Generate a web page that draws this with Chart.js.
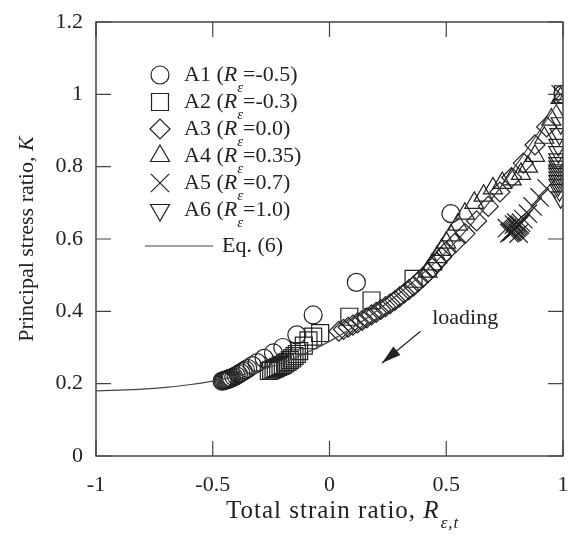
<!DOCTYPE html>
<html>
<head>
<meta charset="utf-8">
<script src="https://cdn.jsdelivr.net/npm/chart.js@4.4.1/dist/chart.umd.min.js"></script>
<style>
  html, body { margin: 0; padding: 0; background: #fff; }
  #wrap { width: 572px; height: 536px; }
</style>
</head>
<body>
<div id="wrap"><canvas id="chart" width="572" height="536"></canvas></div>
<script>
// values: total strain ratio R and principal stress ratio K
const a1R = [1.0, 0.52, 0.115, -0.07, -0.14, -0.2, -0.24, -0.28, -0.31, -0.33, -0.35, -0.36, -0.37, -0.38, -0.39, -0.40, -0.41, -0.42, -0.425, -0.43, -0.435, -0.44, -0.445, -0.45, -0.455, -0.46];
const a1K = [1.0, 0.67, 0.48, 0.39, 0.335, 0.3, 0.285, 0.27, 0.258, 0.25, 0.242, 0.238, 0.234, 0.23, 0.226, 0.222, 0.219, 0.216, 0.215, 0.213, 0.212, 0.211, 0.21, 0.209, 0.208, 0.207];

const a2R = [1.0, 0.36, 0.18, 0.085, -0.04, -0.07, -0.09, -0.11, -0.13, -0.14, -0.15, -0.16, -0.17, -0.18, -0.19, -0.20, -0.21, -0.22, -0.23, -0.24, -0.25, -0.26];
const a2K = [1.0, 0.49, 0.43, 0.385, 0.34, 0.33, 0.32, 0.305, 0.29, 0.282, 0.276, 0.27, 0.265, 0.26, 0.256, 0.252, 0.249, 0.246, 0.243, 0.24, 0.237, 0.235];

const a3R = [0.04, 0.06, 0.08, 0.10, 0.12, 0.14, 0.16, 0.18, 0.20, 0.22, 0.24, 0.26, 0.28, 0.30, 0.32, 0.34, 0.36, 0.38, 0.40, 0.42, 0.44, 0.46, 0.48, 0.50, 0.54, 0.58, 0.63, 0.68, 0.73, 0.78, 0.83, 0.88, 0.93];
const a3K = [0.345, 0.35, 0.356, 0.362, 0.368, 0.375, 0.382, 0.39, 0.397, 0.405, 0.413, 0.421, 0.43, 0.44, 0.45, 0.46, 0.47, 0.482, 0.494, 0.506, 0.52, 0.535, 0.55, 0.565, 0.59, 0.615, 0.65, 0.69, 0.73, 0.77, 0.81, 0.86, 0.91];

const a4R = [0.99, 0.95, 0.92, 0.88, 0.85, 0.82, 0.78, 0.74, 0.70, 0.66, 0.62, 0.58, 0.55, 0.52, 0.50, 0.48, 0.46, 0.44, 0.42];
const a4K = [0.99, 0.93, 0.88, 0.83, 0.80, 0.78, 0.765, 0.755, 0.74, 0.72, 0.70, 0.67, 0.64, 0.61, 0.59, 0.57, 0.55, 0.53, 0.51];

const a5R = [0.99, 0.93, 0.90, 0.87, 0.85, 0.83, 0.82, 0.815, 0.81, 0.805, 0.80, 0.795, 0.79, 0.785, 0.78, 0.775, 0.77, 0.80, 0.81, 0.79, 0.76];
const a5K = [1.0, 0.74, 0.715, 0.69, 0.67, 0.655, 0.645, 0.64, 0.637, 0.634, 0.631, 0.628, 0.625, 0.622, 0.62, 0.618, 0.616, 0.645, 0.615, 0.64, 0.63];

const a6R = [1.0, 0.99, 0.985, 0.98, 0.98, 0.98, 0.98, 0.98, 0.98, 0.98, 0.98, 0.98, 0.98, 0.985, 0.99];
const a6K = [0.97, 0.92, 0.89, 0.86, 0.84, 0.82, 0.81, 0.80, 0.79, 0.78, 0.77, 0.76, 0.75, 0.735, 0.715];

// Eq. (6) curve, read at a few points
const eqR = [-1, -0.9, -0.8, -0.7, -0.6, -0.5, -0.4, -0.3, -0.2, -0.1, 0, 0.1, 0.2, 0.3, 0.4, 0.5, 0.6, 0.7, 0.8, 0.9, 1.0];
const eqK = [0.18, 0.182, 0.185, 0.19, 0.197, 0.207, 0.22, 0.237, 0.258, 0.285, 0.317, 0.355, 0.40, 0.45, 0.505, 0.565, 0.635, 0.715, 0.805, 0.90, 1.0];

const xTicks = [-1, -0.5, 0, 0.5, 1];
const yTicks = [0, 0.2, 0.4, 0.6, 0.8, 1, 1.2];

const seriesNames = ['A1', 'A2', 'A3', 'A4', 'A5', 'A6'];
const seriesRe = ['-0.5', '-0.3', '0.0', '0.35', '0.7', '1.0'];

const INK = '#222';
const SERIF = '"Liberation Serif", "DejaVu Serif", serif';

const toPoints = (rs, ks) => rs.map((r, i) => ({ x: r, y: ks[i] }));

const markerStyles = [
  { pointStyle: 'circle', radius: 9, rotation: 0 },
  { pointStyle: 'rect', radius: 12, rotation: 0 },
  { pointStyle: 'rectRot', radius: 10, rotation: 0 },
  { pointStyle: 'triangle', radius: 11, rotation: 0 },
  { pointStyle: 'crossRot', radius: 13, rotation: 0 },
  { pointStyle: 'triangle', radius: 11, rotation: 180 },
];

const seriesData = [
  toPoints(a1R, a1K), toPoints(a2R, a2K), toPoints(a3R, a3K),
  toPoints(a4R, a4K), toPoints(a5R, a5K), toPoints(a6R, a6K),
];

const markerSets = seriesData.map((data, i) => ({
  label: seriesNames[i],
  data,
  showLine: false,
  pointStyle: markerStyles[i].pointStyle,
  pointRadius: markerStyles[i].radius,
  pointRotation: markerStyles[i].rotation,
  pointBorderWidth: 1.2,
  pointBorderColor: INK,
  pointBackgroundColor: 'rgba(0,0,0,0)',
}));

const eqSet = {
  label: 'Eq. (6)',
  data: toPoints(eqR, eqK),
  showLine: true,
  borderColor: '#444',
  borderWidth: 1.2,
  pointRadius: 0,
  cubicInterpolationMode: 'monotone',
};

const FS = 22;

// frame, inward ticks, tick labels, titles, legend and the "loading" note
const decorations = {
  id: 'decorations',
  afterDraw(chart) {
    const { ctx, chartArea: a, scales: { x, y } } = chart;
    ctx.save();
    ctx.strokeStyle = '#444';
    ctx.lineWidth = 1.5;
    ctx.strokeRect(a.left, a.top, a.right - a.left, a.bottom - a.top);

    const tl = 15;
    ctx.lineWidth = 1.2;
    ctx.beginPath();
    xTicks.forEach((v) => {
      const px = x.getPixelForValue(v);
      ctx.moveTo(px, a.bottom); ctx.lineTo(px, a.bottom - tl);
      ctx.moveTo(px, a.top); ctx.lineTo(px, a.top + tl);
    });
    yTicks.forEach((v) => {
      const py = y.getPixelForValue(v);
      ctx.moveTo(a.left, py); ctx.lineTo(a.left + tl, py);
      ctx.moveTo(a.right, py); ctx.lineTo(a.right - tl, py);
    });
    ctx.stroke();

    ctx.fillStyle = INK;
    ctx.textBaseline = 'middle';
    ctx.font = `${FS}px ${SERIF}`;
    ctx.textAlign = 'center';
    xTicks.forEach((v) => ctx.fillText(String(v), x.getPixelForValue(v), a.bottom + 29));
    ctx.textAlign = 'right';
    yTicks.forEach((v) => ctx.fillText(String(v), a.left - 13, y.getPixelForValue(v)));
    ctx.textAlign = 'left';

    // y title
    ctx.save();
    ctx.translate(27, (a.top + a.bottom) / 2);
    ctx.rotate(-Math.PI / 2);
    const yt = 'Principal stress ratio, ';
    ctx.font = `italic ${FS}px ${SERIF}`;
    const kw = ctx.measureText('K').width;
    ctx.font = `${FS}px ${SERIF}`;
    const ytw = ctx.measureText(yt).width;
    const sx = -(ytw + kw) / 2;
    ctx.fillText(yt, sx, 0);
    ctx.font = `italic ${FS}px ${SERIF}`;
    ctx.fillText('K', sx + ytw, 0);
    ctx.restore();

    // x title
    ctx.save();
    ctx.letterSpacing = '1px';
    const xt = 'Total strain ratio, ';
    ctx.font = `25px ${SERIF}`;
    const xtw = ctx.measureText(xt).width;
    ctx.font = `italic 25px ${SERIF}`;
    const rw = ctx.measureText('R').width;
    const tx = 226;
    const ty = 511;
    ctx.font = `25px ${SERIF}`;
    ctx.fillText(xt, tx, ty);
    ctx.font = `italic 25px ${SERIF}`;
    ctx.fillText('R', tx + xtw, ty);
    ctx.font = `italic 17px ${SERIF}`;
    ctx.fillText('\u03b5,t', tx + xtw + rw + 1, ty + 13);
    ctx.restore();

    // legend
    const lx = 160, tx0 = 184, row0 = 75, step = 27;
    markerStyles.forEach((m, i) => {
      const ry = row0 + i * step;
      ctx.strokeStyle = INK;
      ctx.fillStyle = 'rgba(0,0,0,0)';
      ctx.lineWidth = 1.2;
      Chart.helpers.drawPoint(ctx, { pointStyle: m.pointStyle, radius: m.radius, rotation: m.rotation, borderWidth: 1.2 }, lx, ry);
      ctx.fillStyle = INK;
      ctx.font = `${FS}px ${SERIF}`;
      const head = seriesNames[i] + ' (';
      ctx.fillText(head, tx0, ry);
      let px = tx0 + ctx.measureText(head).width;
      ctx.font = `italic ${FS}px ${SERIF}`;
      ctx.fillText('R', px, ry);
      px += ctx.measureText('R').width;
      ctx.font = `italic 15px ${SERIF}`;
      ctx.fillText('\u03b5', px, ry + 13);
      px += ctx.measureText('\u03b5').width;
      ctx.font = `${FS}px ${SERIF}`;
      ctx.fillText('=' + seriesRe[i] + ')', px, ry);
    });
    const ey = row0 + 6 * step + 9;
    ctx.strokeStyle = '#444';
    ctx.lineWidth = 1.2;
    ctx.beginPath();
    ctx.moveTo(145, ey); ctx.lineTo(213, ey);
    ctx.stroke();
    ctx.font = `${FS}px ${SERIF}`;
    ctx.fillText('Eq. (6)', 222, ey);

    // loading note with arrow
    ctx.fillText('loading', x.getPixelForValue(0.44), y.getPixelForValue(0.38));
    const x0 = x.getPixelForValue(0.39), y0 = y.getPixelForValue(0.345);
    const x1 = x.getPixelForValue(0.225), y1 = y.getPixelForValue(0.257);
    const ang = Math.atan2(y1 - y0, x1 - x0);
    ctx.strokeStyle = INK;
    ctx.lineWidth = 1.2;
    ctx.beginPath();
    ctx.moveTo(x0, y0); ctx.lineTo(x1, y1);
    ctx.stroke();
    ctx.beginPath();
    ctx.moveTo(x1, y1);
    ctx.lineTo(x1 - 20 * Math.cos(ang - 0.28), y1 - 20 * Math.sin(ang - 0.28));
    ctx.lineTo(x1 - 20 * Math.cos(ang + 0.28), y1 - 20 * Math.sin(ang + 0.28));
    ctx.closePath();
    ctx.fill();
    ctx.restore();
  },
};

new Chart(document.getElementById('chart'), {
  type: 'scatter',
  data: { datasets: [eqSet, ...markerSets] },
  options: {
    responsive: false,
    animation: false,
    layout: { autoPadding: false, padding: { top: 22, right: 9, left: 0, bottom: 0 } },
    plugins: { legend: { display: false }, tooltip: { enabled: false } },
    scales: {
      x: {
        type: 'linear',
        min: -1,
        max: 1,
        afterBuildTicks: (scale) => { scale.ticks = xTicks.map((v) => ({ value: v })); },
        afterFit: (scale) => { scale.height = 80; },
        grid: { display: false, drawTicks: false },
        border: { display: false },
        ticks: { display: false },
      },
      y: {
        min: 0,
        max: 1.2,
        afterBuildTicks: (scale) => { scale.ticks = yTicks.map((v) => ({ value: v })); },
        afterFit: (scale) => { scale.width = 96; },
        grid: { display: false, drawTicks: false },
        border: { display: false },
        ticks: { display: false },
      },
    },
  },
  plugins: [decorations],
});
</script>
</body>
</html>
